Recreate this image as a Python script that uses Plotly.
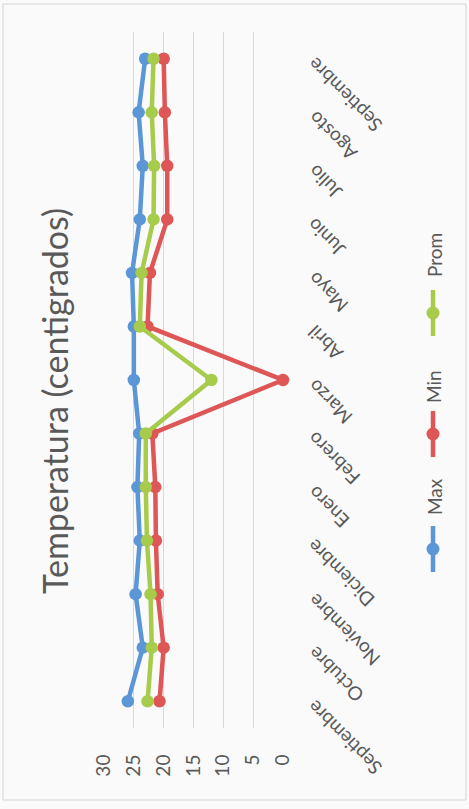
import plotly.graph_objects as go

categories = ["Septiembre", "Octubre", "Noviembre", "Diciembre", "Enero", "Febrero",
              "Marzo", "Abril", "Mayo", "Junio", "Julio", "Agosto", "Septiembre"]
max_vals = [26.0, 23.5, 24.7, 24.0, 24.4, 24.1, 25.0, 25.0, 25.3, 24.0, 23.5, 24.2, 23.1]
min_vals = [20.7, 20.0, 21.0, 21.3, 21.4, 21.9, 0.0, 22.7, 22.3, 19.4, 19.4, 19.8, 20.0]
prom_vals = [22.7, 22.0, 22.2, 22.8, 23.0, 23.0, 12.0, 24.0, 23.7, 21.7, 21.6, 22.0, 21.7]
value_ticks = [0, 5, 10, 15, 20, 25, 30]
series_names = ["Max", "Min", "Prom"]
colors = ["#5B96D6", "#DE5656", "#A7CB4B"]
title_text = "Temperatura (centigrados)"

W, H = 469, 809
ML, MR, MT, MB = 104, 186, 32, 81
PW = W - ML - MR
PH = H - MT - MB
FONT = "Lato"
GRAY = "#595959"


def px(x):
    return (x - ML) / PW


def py(y):
    return (H - MB - y) / PH


idx = list(range(len(categories)))
fig = go.Figure()
for name, vals, col in zip(series_names, [max_vals, min_vals, prom_vals], colors):
    fig.add_trace(go.Scatter(
        x=vals, y=idx, mode="lines+markers", name=name,
        line=dict(color=col, width=4.5),
        marker=dict(color=col, size=12.5),
        showlegend=False, cliponaxis=False,
    ))

annotations = []
# title
annotations.append(dict(text=title_text, xref="paper", yref="paper", x=px(54), y=py(401),
                        textangle=-90, showarrow=False, xanchor="center", yanchor="middle",
                        font=dict(family=FONT, size=34, color=GRAY)))
# category labels
for i, c in enumerate(categories):
    annotations.append(dict(text=c, xref="paper", yref="y", x=px(300), y=i, yshift=8,
                            textangle=-135, showarrow=False, xanchor="left", yanchor="top",
                            font=dict(family=FONT, size=19, color=GRAY)))

# legend (rotated): key centre y, text centre y
legend_pos = {"Max": (549, 497), "Min": (434, 387), "Prom": (313, 255)}
shapes = []
for name, col in zip(series_names, colors):
    ky, ty = legend_pos[name]
    shapes.append(dict(type="line", xref="paper", yref="paper", x0=px(433), x1=px(433),
                       y0=py(ky - 23), y1=py(ky + 23), line=dict(color=col, width=4.5)))
    shapes.append(dict(type="circle", xref="paper", yref="paper", x0=px(426.5), x1=px(439.5),
                       y0=py(ky - 6.5), y1=py(ky + 6.5), fillcolor=col, line=dict(color=col, width=0)))
    annotations.append(dict(text=name, xref="paper", yref="paper", x=px(434), y=py(ty),
                            textangle=-90, showarrow=False, xanchor="center", yanchor="middle",
                            font=dict(family=FONT, size=19, color=GRAY)))

# chart border
shapes.append(dict(type="rect", xref="paper", yref="paper", x0=px(3), x1=px(466),
                   y0=py(800), y1=py(4), line=dict(color="#D4D4D4", width=1), layer="below"))

fig.update_layout(
    width=W, height=H,
    margin=dict(l=ML, r=MR, t=MT, b=MB),
    paper_bgcolor="#FAFAFA", plot_bgcolor="#FAFAFA",
    annotations=annotations, shapes=shapes,
    showlegend=False,
    xaxis=dict(range=[30, 0], tickvals=value_ticks, ticktext=[str(v) for v in value_ticks],
               tickangle=-90, showgrid=True, gridcolor="#D9D9D9", gridwidth=1,
               zeroline=False, showline=False, ticks="outside", ticklen=18,
               tickcolor="rgba(0,0,0,0)",
               tickfont=dict(family=FONT, size=19, color=GRAY)),
    yaxis=dict(range=[-0.5, 12.5], showgrid=False, zeroline=False, showticklabels=False,
               showline=False),
)

fig.write_html("out.html")
